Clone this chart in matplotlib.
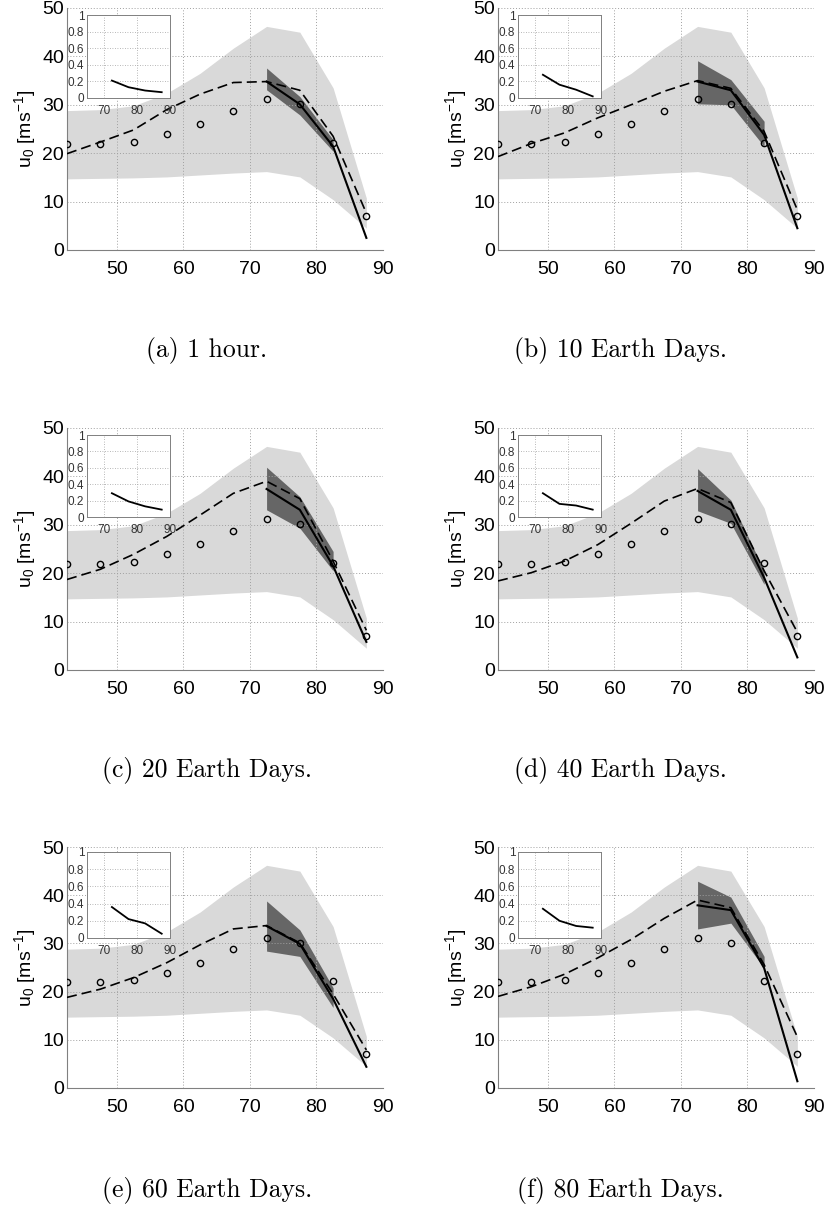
import matplotlib
matplotlib.use("Agg")
import matplotlib.pyplot as plt

plt.rcParams['font.family'] = ['Liberation Sans', 'DejaVu Sans']
plt.rcParams['mathtext.default'] = 'regular'

W, H = 826, 1213

# ---------------- data ----------------
lat = [42.5, 47.5, 52.5, 57.5, 62.5, 67.5, 72.5, 77.5, 82.5, 87.5]
spread_hi = [28.8, 29.0, 29.8, 32.4, 36.5, 41.7, 46.2, 45.0, 33.5, 10.7]
spread_lo = [14.7, 14.8, 14.9, 15.1, 15.5, 15.9, 16.2, 15.1, 10.4, 4.5]
observed = [21.9, 21.9, 22.4, 23.9, 26.0, 28.8, 31.2, 30.1, 22.1, 7.1]

lat_est = [72.5, 77.5, 82.5, 87.5]
lat_band = [72.5, 77.5, 82.5]

captions = ["(a) 1 hour.", "(b) 10 Earth Days.", "(c) 20 Earth Days.",
            "(d) 40 Earth Days.", "(e) 60 Earth Days.", "(f) 80 Earth Days."]

dashed_a = [19.9, 22.3, 24.8, 29.0, 32.2, 34.6, 34.8, 33.0, 23.5, 7.6]
dashed_b = [19.3, 22.0, 24.2, 27.3, 30.0, 32.8, 35.0, 33.4, 24.5, 8.3]
dashed_c = [18.7, 20.8, 23.9, 27.6, 32.0, 36.5, 39.0, 35.4, 22.5, 8.2]
dashed_d = [18.4, 20.1, 22.5, 25.9, 30.3, 34.9, 37.5, 34.6, 20.5, 7.8]
dashed_e = [18.8, 20.5, 22.9, 26.0, 29.7, 33.0, 33.7, 30.1, 19.5, 7.9]
dashed_f = [19.0, 21.0, 23.6, 27.0, 30.8, 35.2, 39.0, 37.4, 25.6, 10.6]

solid_a = [34.8, 30.1, 21.4, 2.5]
solid_b = [34.8, 33.0, 23.8, 4.5]
solid_c = [37.4, 33.1, 21.5, 5.8]
solid_d = [37.0, 33.1, 19.1, 2.6]
solid_e = [33.6, 29.9, 18.5, 4.4]
solid_f = [37.9, 36.9, 24.9, 1.4]

dark_hi_a = [37.6, 31.7, 22.8]
dark_lo_a = [33.1, 27.9, 20.4]
dark_hi_b = [39.1, 35.2, 26.6]
dark_lo_b = [30.2, 30.0, 21.4]
dark_hi_c = [41.9, 35.8, 24.5]
dark_lo_c = [33.1, 29.3, 20.5]
dark_hi_d = [41.6, 35.1, 20.5]
dark_lo_d = [32.9, 30.3, 17.7]
dark_hi_e = [38.8, 32.8, 20.8]
dark_lo_e = [28.4, 27.3, 16.7]
dark_hi_f = [42.9, 39.6, 27.3]
dark_lo_f = [33.0, 34.2, 24.9]

inset_a = [0.21, 0.13, 0.09, 0.07]
inset_b = [0.28, 0.16, 0.10, 0.02]
inset_c = [0.29, 0.19, 0.13, 0.09]
inset_d = [0.29, 0.16, 0.14, 0.09]
inset_e = [0.36, 0.22, 0.17, 0.05]
inset_f = [0.34, 0.20, 0.14, 0.12]

dashed = [dashed_a, dashed_b, dashed_c, dashed_d, dashed_e, dashed_f]
solid = [solid_a, solid_b, solid_c, solid_d, solid_e, solid_f]
dark_hi = [dark_hi_a, dark_hi_b, dark_hi_c, dark_hi_d, dark_hi_e, dark_hi_f]
dark_lo = [dark_lo_a, dark_lo_b, dark_lo_c, dark_lo_d, dark_lo_e, dark_lo_f]
insets = [inset_a, inset_b, inset_c, inset_d, inset_e, inset_f]

# ---------------- layout (pixels) ----------------
col_x = [(67, 383), (498, 814)]
row_y = [(8, 250), (428, 670), (847, 1088)]
inset_y = [(15, 98), (435, 517), (852, 938)]
inset_dx = 20
inset_w = 83
cap_x = [207, 620]
cap_y = [350, 770, 1190]

fig = plt.figure(figsize=(W / 100, H / 100), dpi=100)


def px_axes(x0, x1, y0, y1):
    return fig.add_axes([x0 / W, 1 - y1 / H, (x1 - x0) / W, (y1 - y0) / H])


spine_col = '#808080'
for i in range(6):
    r, c = divmod(i, 2)
    x0, x1 = col_x[c]
    y0, y1 = row_y[r]
    ax = px_axes(x0, x1, y0, y1)
    ax.fill_between(lat, spread_lo, spread_hi, color='#d9d9d9', lw=0, zorder=1)
    ax.fill_between(lat_band, dark_lo[i], dark_hi[i], color='#666666', lw=0, zorder=1.2)
    ax.plot(lat, dashed[i], color='black', lw=1.2, dashes=(6, 3), zorder=3)
    ax.plot(lat_est, solid[i], color='black', lw=1.5, zorder=3)
    ax.plot(lat, observed, 'o', mfc='none', mec='black', ms=4.5, mew=1.0, zorder=4)
    ax.set_xlim(42.5, 90)
    ax.set_ylim(0, 50)
    ax.set_xticks([50, 60, 70, 80, 90])
    ax.set_yticks([0, 10, 20, 30, 40, 50])
    ax.grid(True, ls=(0, (1, 2)), color='#a0a0a0', lw=0.7)
    for s in ['top', 'right']:
        ax.spines[s].set_visible(False)
    for s in ['left', 'bottom']:
        ax.spines[s].set_color(spine_col)
        ax.spines[s].set_linewidth(0.8)
    ax.tick_params(axis='both', length=0, labelsize=14, colors='black')
    ax.tick_params(axis='x', pad=8)
    ax.tick_params(axis='y', pad=2)
    ax.set_ylabel(r'u$_0$ [ms$^{-1}$]', fontsize=14, labelpad=3)

    # inset
    iy0, iy1 = inset_y[r]
    ix0 = x0 + inset_dx
    ia = px_axes(ix0, ix0 + inset_w, iy0, iy1)
    ia.set_facecolor('white')
    ia.plot(lat_est, insets[i], color='black', lw=1.3)
    ia.set_xlim(65, 90)
    ia.set_ylim(0, 1)
    ia.set_xticks([70, 80, 90])
    ia.set_yticks([0, 0.2, 0.4, 0.6, 0.8, 1])
    ia.set_yticklabels(['0', '0.2', '0.4', '0.6', '0.8', '1'])
    ia.grid(True, ls=(0, (1, 2)), color='#a0a0a0', lw=0.6)
    for s in ia.spines.values():
        s.set_color(spine_col)
        s.set_linewidth(0.7)
    ia.tick_params(axis='both', length=0, labelsize=8.5, colors='#333333', pad=2)
    ia.tick_params(axis='x', pad=5)

    fig.text(cap_x[c] / W, 1 - cap_y[r] / H, captions[i], ha='center', va='center',
             fontsize=18.5, family='cmr10')

fig.savefig('out.png', dpi=100)
